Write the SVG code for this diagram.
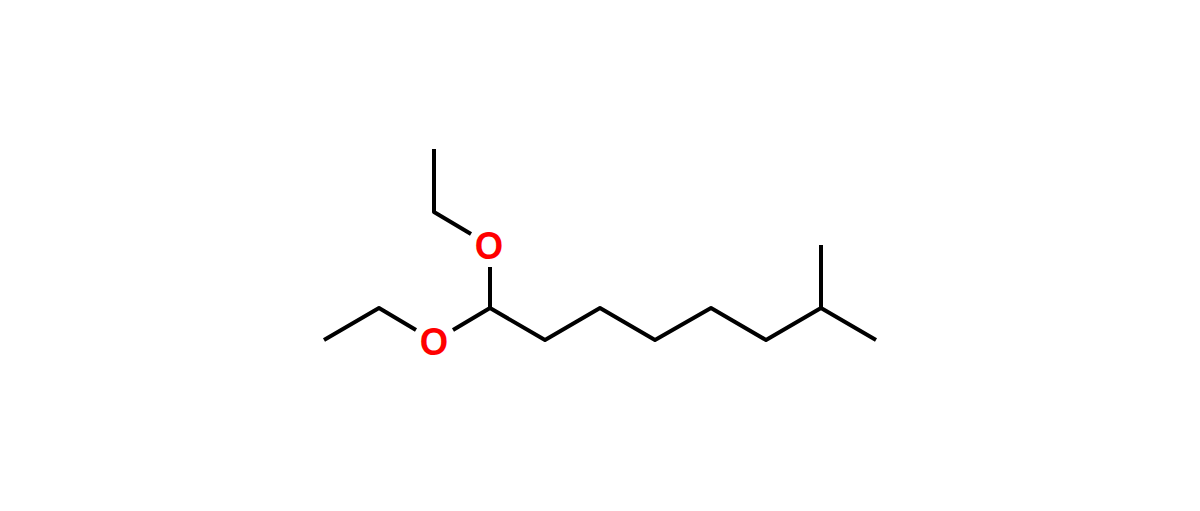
<svg xmlns="http://www.w3.org/2000/svg" width="1200" height="511" viewBox="0 0 1200 511">
<style>
.b{fill:none;stroke:#000;stroke-width:4;stroke-linecap:butt;stroke-linejoin:round}
text{font-family:'Liberation Sans',Arial,Helvetica,sans-serif;font-size:38px;font-weight:700;fill:#f00;text-anchor:middle}
</style>
<rect width="1200" height="511" fill="#fff"/>
<g id="connectors">
<path class="b" d="M434 149V212L471 234"/>
<path class="b" d="M490 267V308"/>
<path class="b" d="M324 340L379 308L416 330"/>
<path class="b" d="M453 330L490 308L545 340L600 308L655 340L711 308L766 340L821 308L876 340"/>
<path class="b" d="M821 308V245"/>
</g>
<g id="o1"><text transform="translate(489 259) scale(.96 1)">O</text></g>
<g id="o2"><text transform="translate(434 355) scale(.96 1)">O</text></g>
</svg>
